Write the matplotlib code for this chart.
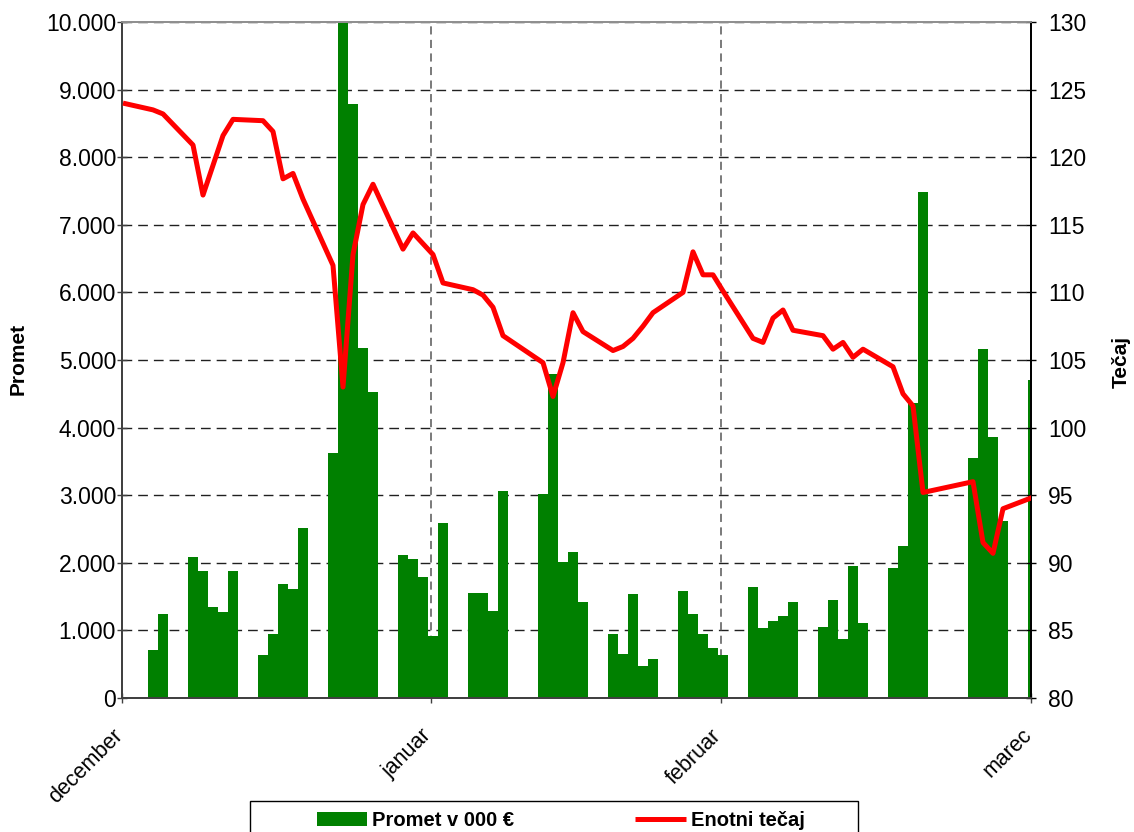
import matplotlib
matplotlib.use("Agg")
import matplotlib.pyplot as plt
import matplotlib.transforms as mtransforms
import pandas as pd
from matplotlib.patches import Rectangle
from matplotlib.ticker import FuncFormatter, MultipleLocator

# ----------------- podatki -----------------
START = "2008-12-01"

DATES = [
    "2008-12-01", "2008-12-04", "2008-12-05",
    "2008-12-08", "2008-12-09", "2008-12-10", "2008-12-11", "2008-12-12",
    "2008-12-15", "2008-12-16", "2008-12-17", "2008-12-18", "2008-12-19",
    "2008-12-22", "2008-12-23", "2008-12-24", "2008-12-25", "2008-12-26",
    "2008-12-29", "2008-12-30", "2008-12-31", "2009-01-01", "2009-01-02",
    "2009-01-05", "2009-01-06", "2009-01-07", "2009-01-08",
    "2009-01-12", "2009-01-13", "2009-01-14", "2009-01-15", "2009-01-16",
    "2009-01-19", "2009-01-20", "2009-01-21", "2009-01-22", "2009-01-23",
    "2009-01-26", "2009-01-27", "2009-01-28", "2009-01-29", "2009-01-30",
    "2009-02-02", "2009-02-03", "2009-02-04", "2009-02-05", "2009-02-06",
    "2009-02-09", "2009-02-10", "2009-02-11", "2009-02-12", "2009-02-13",
    "2009-02-16", "2009-02-17", "2009-02-18", "2009-02-19",
    "2009-02-24", "2009-02-25", "2009-02-26", "2009-02-27",
    "2009-03-02",
]

# promet v 000 EUR
PROMET = [
    0, 710, 1240,
    2080, 1880, 1350, 1270, 1880,
    640, 950, 1680, 1610, 2520,
    3630, 10100, 8790, 5180, 4530,
    2110, 2050, 1790, 920, 2590,
    1560, 1560, 1280, 3060,
    3020, 4790, 2010, 2160, 1420,
    950, 655, 1540, 480, 580,
    1590, 1250, 950, 740, 640,
    1645, 1040, 1140, 1220, 1420,
    1050, 1450, 880, 1960, 1110,
    1930, 2250, 4360, 7490,
    3550, 5160, 3860, 2620,
    4700,
]

# enotni tecaj
TECAJ = [
    124.0, 123.5, 123.2,
    120.9, 117.2, 119.4, 121.6, 122.8,
    122.7, 121.9, 118.4, 118.8, 116.9,
    112.0, 103.0, 112.8, 116.5, 118.0,
    113.2, 114.4, 113.6, 112.8, 110.7,
    110.2, 109.8, 108.9, 106.8,
    104.8, 102.3, 104.8, 108.5, 107.1,
    105.7, 106.0, 106.6, 107.5, 108.5,
    110.0, 113.0, 111.3, 111.3, 110.1,
    106.6, 106.3, 108.1, 108.7, 107.2,
    106.8, 105.8, 106.3, 105.2, 105.8,
    104.5, 102.5, 101.6, 95.2,
    96.0, 91.5, 90.7, 94.0,
    94.85,
]

MONTH_LABELS = ["december", "januar", "februar", "marec"]
MONTH_TICKS = [-0.1, 30.8, 59.8, 90.8]

GREEN = "#008000"
RED = "#ff0000"

plt.rcParams["font.family"] = ["Liberation Sans", "DejaVu Sans"]
NARROW = ["Liberation Sans Narrow", "Liberation Sans", "DejaVu Sans"]

# ----------------- graf -----------------
days = (pd.to_datetime(DATES) - pd.Timestamp(START)).days.values

fig = plt.figure(figsize=(11.34, 8.32), dpi=100)
ax = fig.add_axes([122 / 1134, 1 - 698 / 832, 909 / 1134, 676 / 832])
ax2 = ax.twinx()

ax.bar(days, PROMET, width=1.0, color=GREEN, edgecolor="none", zorder=2,
       label="Promet v 000 €")
ax2.plot(days, TECAJ, color=RED, lw=3.6, solid_joinstyle="round",
         solid_capstyle="butt", zorder=3, label="Enotni tečaj")

ax.set_xlim(MONTH_TICKS[0], MONTH_TICKS[-1])
ax.set_ylim(0, 10000)
ax2.set_ylim(80, 130)

ax.yaxis.set_major_locator(MultipleLocator(1000))
ax.yaxis.set_major_formatter(FuncFormatter(lambda v, p: f"{int(v):,}".replace(",", ".")))
ax2.yaxis.set_major_locator(MultipleLocator(5))

# oznake mesecev (zamaknjene levo in navzdol kot v Excelu)
ax.set_xticks(MONTH_TICKS)
ax.set_xticklabels([])
lab_tr = ax.get_xaxis_transform() + mtransforms.ScaledTranslation(
    -10 / 100, -27 / 100, fig.dpi_scale_trans)
for t, name in zip(MONTH_TICKS, MONTH_LABELS):
    ax.text(t, 0, name, transform=lab_tr, rotation=45, ha="right", va="top",
            rotation_mode="anchor", fontsize=15.5, clip_on=False)

ax.grid(axis="y", color="#202020", lw=1.0, linestyle=(0, (7, 4.3)), zorder=1)
for t in MONTH_TICKS[1:-1]:
    ax.axvline(t, color="#707070", lw=1.3, linestyle=(0, (4.5, 3)), zorder=1)
ax.set_axisbelow(True)

ax.tick_params(axis="both", direction="inout", length=6.5, width=1.0,
               colors="#404040", labelcolor="black")
ax.tick_params(axis="y", labelsize=16.5, pad=1)
ax2.tick_params(axis="y", direction="inout", length=6.5, width=1.0,
                labelsize=16.5, colors="black", labelcolor="black", pad=9)

for a in (ax, ax2):
    a.spines["top"].set_color("#909090")
    a.spines["left"].set_color("#404040")
    a.spines["bottom"].set_color("#404040")
    a.spines["right"].set_color("black")
    for s in a.spines.values():
        s.set_linewidth(1.3)

fig.text(18 / 1134, 1 - 359 / 832, "Promet", rotation=90, ha="center", va="center",
         fontsize=15, fontweight="bold", family=NARROW)
fig.text(1121 / 1134, 1 - 362 / 832, "Tečaj", rotation=90, ha="center", va="center",
         fontsize=15, fontweight="bold", family=NARROW)

# legenda
fig.patches.append(Rectangle((250 / 1134, -0.05), 608 / 1134, 0.05 + 31 / 832,
                             transform=fig.transFigure, fill=False,
                             edgecolor="black", lw=1.0))
h1, l1 = ax.get_legend_handles_labels()
h2, l2 = ax2.get_legend_handles_labels()
fig.legend(h1 + h2, l1 + l2, loc="upper left", bbox_to_anchor=(317 / 1134, 1 - 811 / 832),
           ncol=2, frameon=False, handlelength=2.5, handleheight=0.75,
           handletextpad=0.25, columnspacing=6.0, borderpad=0, borderaxespad=0,
           prop={"family": NARROW, "weight": "bold", "size": 14.5})

fig.savefig("out.png", dpi=100)
